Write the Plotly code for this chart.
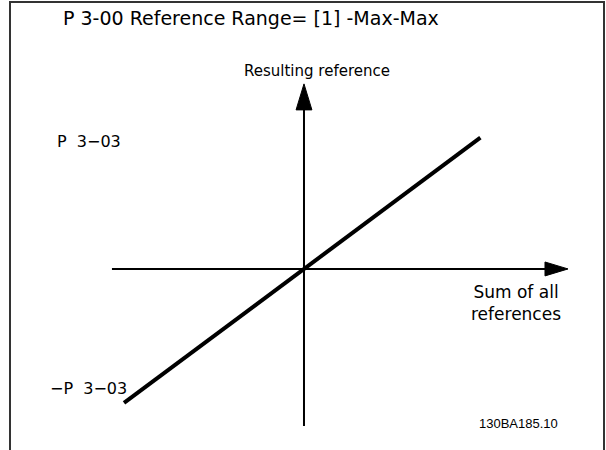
import plotly.graph_objects as go

# Data (normalised: -Max .. +Max)
sum_of_refs = [-1.0, 0.98]
resulting_ref = [-1.0, 0.98]

W, H = 606, 450
# axis ranges chosen so the origin sits at the reference position
x_range = [-1.689, 1.678]
y_range = [-1.351, 2.007]

fig = go.Figure()
fig.add_trace(go.Scatter(x=sum_of_refs, y=resulting_ref, mode="lines",
                         line=dict(color="black", width=4), hoverinfo="skip",
                         showlegend=False))

shapes = []
# horizontal axis with arrow
shapes.append(dict(type="line", xref="x", yref="y", x0=-1.067, x1=1.35, y0=0, y1=0,
                   line=dict(color="black", width=2)))
shapes.append(dict(type="path", xref="x", yref="y",
                   path="M 1.339 0.052 L 1.467 0 L 1.339 -0.052 Z",
                   fillcolor="black", line=dict(color="black", width=1)))
# vertical axis with arrow
shapes.append(dict(type="line", xref="x", yref="y", x0=0, x1=0, y0=-1.172, y1=1.2,
                   line=dict(color="black", width=2)))
shapes.append(dict(type="path", xref="x", yref="y",
                   path="M -0.044 1.187 L 0 1.381 L 0.044 1.187 Z",
                   fillcolor="black", line=dict(color="black", width=1)))
# frame (open at the bottom)
shapes.append(dict(type="path", xref="paper", yref="paper",
                   path=f"M {10/W} 0 L {10/W} {1-2/H} L {604/W} {1-2/H} L {604/W} 0",
                   line=dict(color="#333333", width=2)))


def ann(text, px, py, size, family, xanchor="left", color="black", weight="normal"):
    return dict(text=text, x=px / W, y=1 - py / H, xref="paper", yref="paper",
                xanchor=xanchor, yanchor="middle", showarrow=False,
                font=dict(size=size, family=family, color=color, weight=weight))


NB = "\u00a0"
p303 = f"P{NB}{NB}3\u221203"
annotations = [
    ann("P 3-00 Reference Range= [1] -Max-Max", 61, 18, 19, "DejaVu Sans"),
    ann("Resulting reference", 317, 71, 15, "DejaVu Sans", xanchor="center"),
    ann("Sum of all<br>references", 516, 303, 17, "DejaVu Sans", xanchor="center"),
    ann(p303, 55, 141, 16, "DejaVu Sans"),
    ann("\u2212" + p303, 48, 388, 16, "DejaVu Sans"),
    ann("130BA185.10", 477, 423, 13, "Liberation Sans"),
]

fig.update_layout(
    width=W, height=H, margin=dict(l=0, r=0, t=0, b=0),
    paper_bgcolor="white", plot_bgcolor="white",
    xaxis=dict(range=x_range, visible=False, fixedrange=True),
    yaxis=dict(range=y_range, visible=False, fixedrange=True),
    shapes=shapes, annotations=annotations,
)

fig.write_html("out.html", config={"displayModeBar": False},
               post_script="document.body.style.margin='0';")
